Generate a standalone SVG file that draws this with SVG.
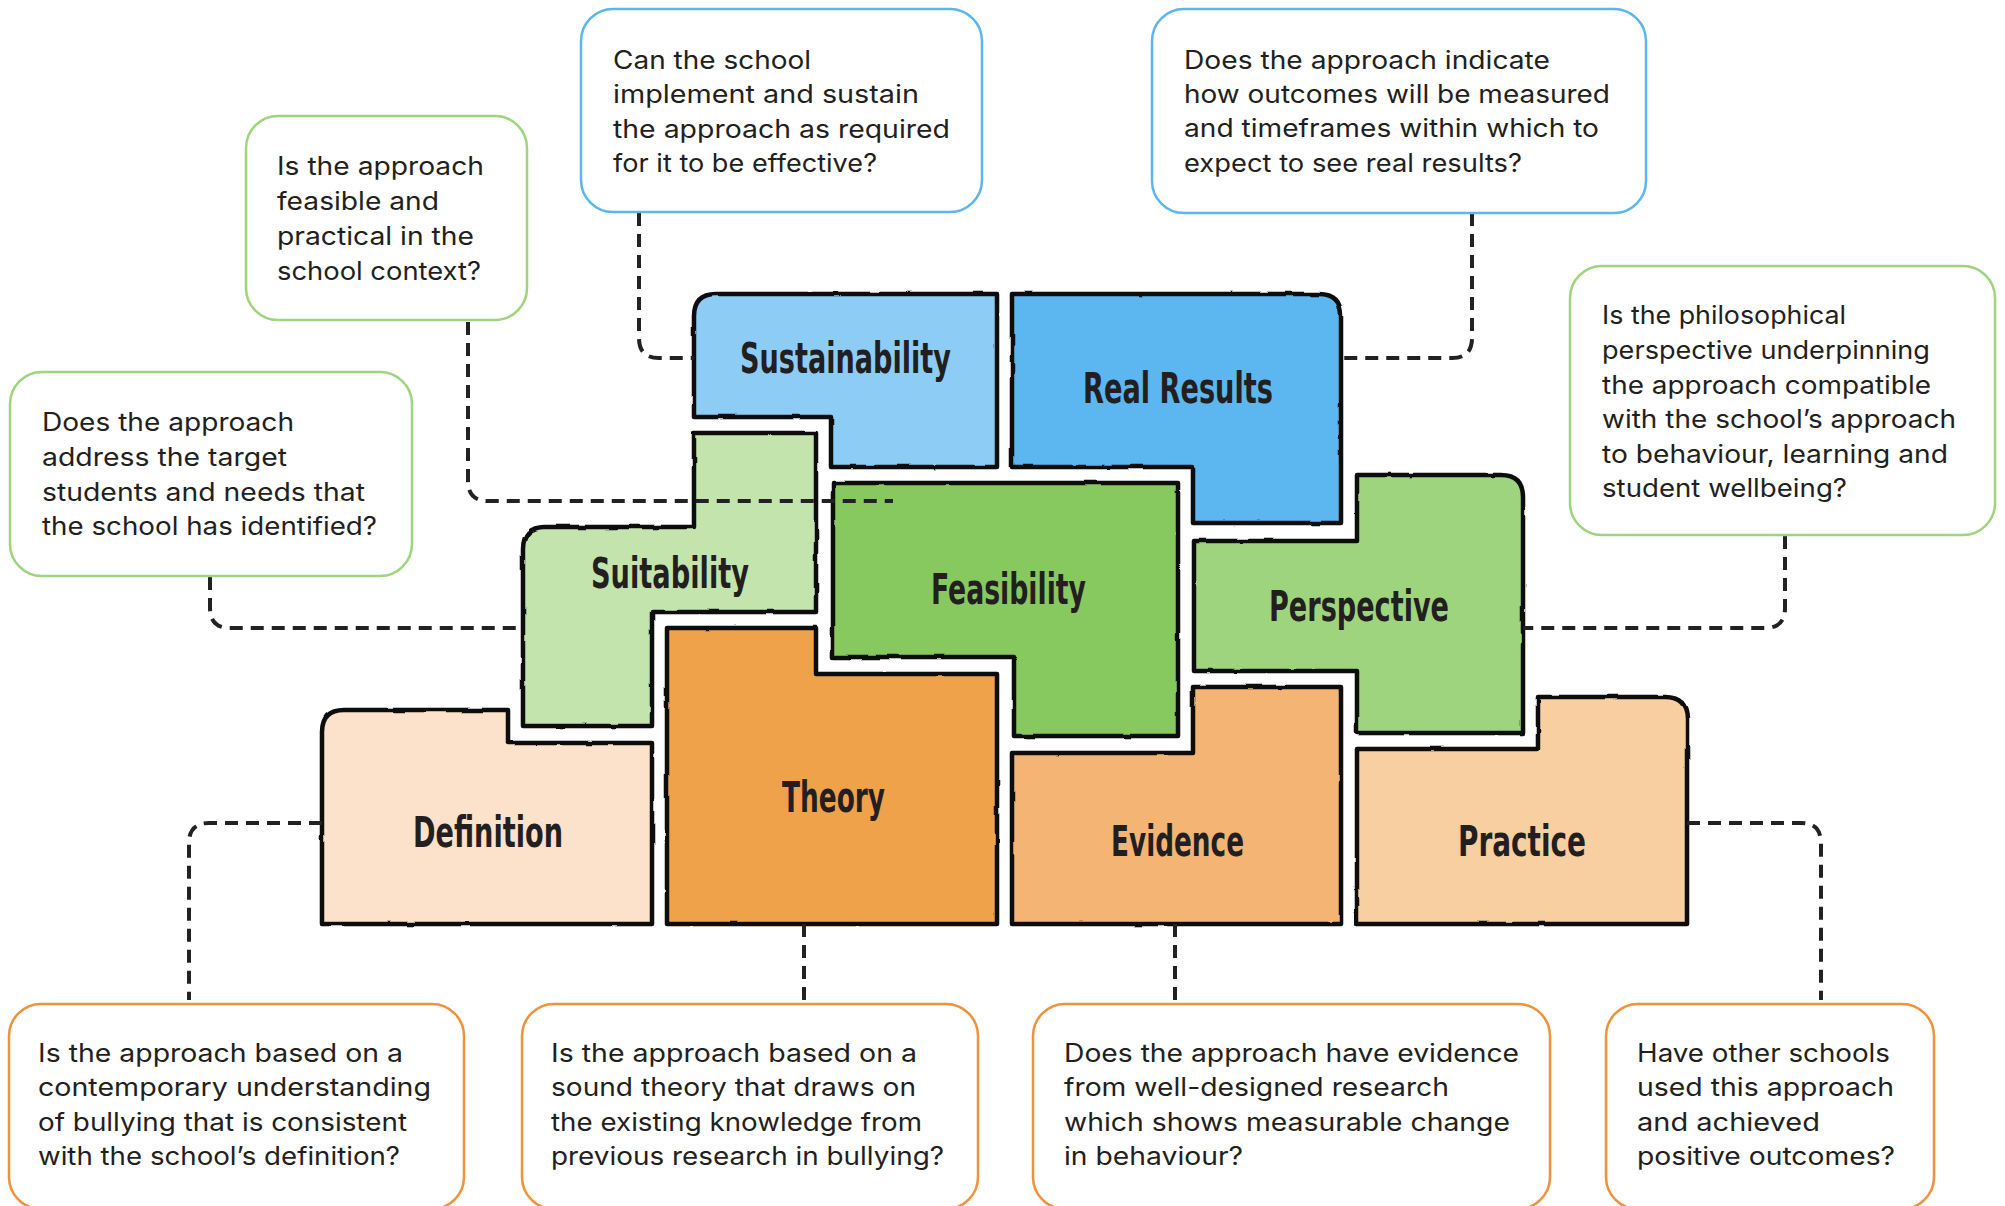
<svg xmlns="http://www.w3.org/2000/svg" width="2005" height="1206" viewBox="0 0 2005 1206">
<defs>
<filter id="rough" x="-5%" y="-5%" width="110%" height="110%">
<feTurbulence type="fractalNoise" baseFrequency="0.04" numOctaves="2" seed="3" result="n"/>
<feDisplacementMap in="SourceGraphic" in2="n" scale="2.5" xChannelSelector="R" yChannelSelector="G"/>
</filter>
<style>
.blk{stroke:#111;stroke-width:4.5;stroke-linejoin:round}
.title{font-family:"DejaVu Sans Condensed","DejaVu Sans","Liberation Sans",sans-serif;font-weight:bold;font-size:42px;fill:#231F20;text-anchor:middle}
.q{font-family:Inter,"Open Sans","Noto Sans",sans-serif;font-size:25px;fill:#231F20}
.box{fill:#fff;stroke-width:2.5}
.bb{stroke:#5BB6EF}
.gb{stroke:#9ED47C}
.ob{stroke:#F0923A}
.con{fill:none;stroke:#222;stroke-width:4;stroke-dasharray:13 8}
</style>
</defs>
<rect width="2005" height="1206" fill="#fff"/>

<g id="sustainability">
<path class="blk" filter="url(#rough)" fill="#8DCDF5" d="M694,316 Q694,294 716,294 L997,294 L997,467 L831,467 L831,417 L694,417 Z"/>
<text class="title" x="845.5" y="373" textLength="211" lengthAdjust="spacingAndGlyphs">Sustainability</text>
</g>
<g id="real-results">
<path class="blk" filter="url(#rough)" fill="#5BB6EF" d="M1012,294 L1319,294 Q1341,294 1341,316 L1341,523 L1193,523 L1193,467 L1012,467 Z"/>
<text class="title" x="1178" y="403" textLength="190" lengthAdjust="spacingAndGlyphs">Real Results</text>
</g>
<g id="suitability">
<path class="blk" filter="url(#rough)" fill="#C4E4AE" d="M694,433 L816,433 L816,612 L652,612 L652,726 L523,726 L523,549 Q523,527 545,527 L694,527 Z"/>
<text class="title" x="670" y="588" textLength="158" lengthAdjust="spacingAndGlyphs">Suitability</text>
</g>
<g id="feasibility">
<path class="blk" filter="url(#rough)" fill="#88C95E" d="M833,483 L1178,483 L1178,736 L1014,736 L1014,657 L833,657 Z"/>
<text class="title" x="1008.5" y="604" textLength="155" lengthAdjust="spacingAndGlyphs">Feasibility</text>
</g>
<g id="perspective">
<path class="blk" filter="url(#rough)" fill="#9FD47E" d="M1357,475 L1501,475 Q1523,475 1523,497 L1523,733 L1357,733 L1357,671 L1194,671 L1194,541 L1357,541 Z"/>
<text class="title" x="1359" y="621" textLength="180" lengthAdjust="spacingAndGlyphs">Perspective</text>
</g>
<g id="definition">
<path class="blk" filter="url(#rough)" fill="#FCE2CA" d="M322,732 Q322,710 344,710 L508,710 L508,743 L652,743 L652,924 L322,924 Z"/>
<text class="title" x="488" y="847" textLength="150" lengthAdjust="spacingAndGlyphs">Definition</text>
</g>
<g id="theory">
<path class="blk" filter="url(#rough)" fill="#F0A24C" d="M667,628 L816,628 L816,674 L997,674 L997,924 L667,924 Z"/>
<text class="title" x="833.5" y="812" textLength="103" lengthAdjust="spacingAndGlyphs">Theory</text>
</g>
<g id="evidence">
<path class="blk" filter="url(#rough)" fill="#F4B473" d="M1012,753 L1193,753 L1193,687 L1341,687 L1341,924 L1012,924 Z"/>
<text class="title" x="1177.5" y="856" textLength="133" lengthAdjust="spacingAndGlyphs">Evidence</text>
</g>
<g id="practice">
<path class="blk" filter="url(#rough)" fill="#F7CFA1" d="M1357,749 L1538,749 L1538,697 L1665,697 Q1687,697 1687,719 L1687,924 L1357,924 Z"/>
<text class="title" x="1522" y="856" textLength="128" lengthAdjust="spacingAndGlyphs">Practice</text>
</g>

<g id="connectors">
<path class="con" d="M639,213 L639,338 Q639,358 659,358 L694,358"/>
<path class="con" d="M468,322 L468,481 Q468,501 488,501 L893,501"/>
<path class="con" d="M210,577 L210,608 Q210,628 230,628 L523,628"/>
<path class="con" d="M1472,213 L1472,338 Q1472,358 1452,358 L1341,358"/>
<path class="con" d="M1785,536 L1785,608 Q1785,628 1765,628 L1523,628"/>
<path class="con" d="M322,823 L209,823 Q189,823 189,843 L189,1000"/>
<path class="con" d="M804,924 L804,1002"/>
<path class="con" d="M1175,924 L1175,1002"/>
<path class="con" d="M1687,823 L1801,823 Q1821,823 1821,843 L1821,1000"/>
</g>

<g id="q-sustainability">
<rect class="box bb" x="581" y="9" width="401" height="203" rx="32"/>
<text class="q" x="613" y="69" textLength="198" lengthAdjust="spacingAndGlyphs">Can the school</text>
<text class="q" x="613" y="103" textLength="306" lengthAdjust="spacingAndGlyphs">implement and sustain</text>
<text class="q" x="613" y="138" textLength="337" lengthAdjust="spacingAndGlyphs">the approach as required</text>
<text class="q" x="613" y="172" textLength="264" lengthAdjust="spacingAndGlyphs">for it to be effective?</text>
</g>
<g id="q-real-results">
<rect class="box bb" x="1152" y="9" width="494" height="204" rx="32"/>
<text class="q" x="1184" y="69" textLength="366" lengthAdjust="spacingAndGlyphs">Does the approach indicate</text>
<text class="q" x="1184" y="103" textLength="426" lengthAdjust="spacingAndGlyphs">how outcomes will be measured</text>
<text class="q" x="1184" y="137" textLength="415" lengthAdjust="spacingAndGlyphs">and timeframes within which to</text>
<text class="q" x="1184" y="172" textLength="338" lengthAdjust="spacingAndGlyphs">expect to see real results?</text>
</g>
<g id="q-feasibility">
<rect class="box gb" x="246" y="116" width="281" height="204" rx="32"/>
<text class="q" x="277" y="175" textLength="207" lengthAdjust="spacingAndGlyphs">Is the approach</text>
<text class="q" x="277" y="210" textLength="162" lengthAdjust="spacingAndGlyphs">feasible and</text>
<text class="q" x="277" y="245" textLength="197" lengthAdjust="spacingAndGlyphs">practical in the</text>
<text class="q" x="277" y="280" textLength="204" lengthAdjust="spacingAndGlyphs">school context?</text>
</g>
<g id="q-suitability">
<rect class="box gb" x="10" y="372" width="402" height="204" rx="32"/>
<text class="q" x="42" y="431" textLength="252" lengthAdjust="spacingAndGlyphs">Does the approach</text>
<text class="q" x="42" y="466" textLength="245" lengthAdjust="spacingAndGlyphs">address the target</text>
<text class="q" x="42" y="501" textLength="323" lengthAdjust="spacingAndGlyphs">students and needs that</text>
<text class="q" x="42" y="535" textLength="335" lengthAdjust="spacingAndGlyphs">the school has identified?</text>
</g>
<g id="q-perspective">
<rect class="box gb" x="1570" y="266" width="425" height="269" rx="32"/>
<text class="q" x="1602" y="324" textLength="244" lengthAdjust="spacingAndGlyphs">Is the philosophical</text>
<text class="q" x="1602" y="359" textLength="328" lengthAdjust="spacingAndGlyphs">perspective underpinning</text>
<text class="q" x="1602" y="394" textLength="329" lengthAdjust="spacingAndGlyphs">the approach compatible</text>
<text class="q" x="1602" y="428" textLength="354" lengthAdjust="spacingAndGlyphs">with the school’s approach</text>
<text class="q" x="1602" y="463" textLength="346" lengthAdjust="spacingAndGlyphs">to behaviour, learning and</text>
<text class="q" x="1602" y="497" textLength="245" lengthAdjust="spacingAndGlyphs">student wellbeing?</text>
</g>
<g id="q-definition">
<rect class="box ob" x="9" y="1004" width="455" height="205" rx="32"/>
<text class="q" x="38" y="1062" textLength="365" lengthAdjust="spacingAndGlyphs">Is the approach based on a</text>
<text class="q" x="38" y="1096" textLength="393" lengthAdjust="spacingAndGlyphs">contemporary understanding</text>
<text class="q" x="38" y="1131" textLength="369" lengthAdjust="spacingAndGlyphs">of bullying that is consistent</text>
<text class="q" x="38" y="1165" textLength="362" lengthAdjust="spacingAndGlyphs">with the school’s definition?</text>
</g>
<g id="q-theory">
<rect class="box ob" x="522" y="1004" width="456" height="205" rx="32"/>
<text class="q" x="551" y="1062" textLength="366" lengthAdjust="spacingAndGlyphs">Is the approach based on a</text>
<text class="q" x="551" y="1096" textLength="365" lengthAdjust="spacingAndGlyphs">sound theory that draws on</text>
<text class="q" x="551" y="1131" textLength="371" lengthAdjust="spacingAndGlyphs">the existing knowledge from</text>
<text class="q" x="551" y="1165" textLength="393" lengthAdjust="spacingAndGlyphs">previous research in bullying?</text>
</g>
<g id="q-evidence">
<rect class="box ob" x="1033" y="1004" width="517" height="205" rx="32"/>
<text class="q" x="1064" y="1062" textLength="455" lengthAdjust="spacingAndGlyphs">Does the approach have evidence</text>
<text class="q" x="1064" y="1096" textLength="385" lengthAdjust="spacingAndGlyphs">from well-designed research</text>
<text class="q" x="1064" y="1131" textLength="446" lengthAdjust="spacingAndGlyphs">which shows measurable change</text>
<text class="q" x="1064" y="1165" textLength="179" lengthAdjust="spacingAndGlyphs">in behaviour?</text>
</g>
<g id="q-practice">
<rect class="box ob" x="1606" y="1004" width="328" height="205" rx="32"/>
<text class="q" x="1637" y="1062" textLength="253" lengthAdjust="spacingAndGlyphs">Have other schools</text>
<text class="q" x="1637" y="1096" textLength="257" lengthAdjust="spacingAndGlyphs">used this approach</text>
<text class="q" x="1637" y="1131" textLength="183" lengthAdjust="spacingAndGlyphs">and achieved</text>
<text class="q" x="1637" y="1165" textLength="258" lengthAdjust="spacingAndGlyphs">positive outcomes?</text>
</g>
</svg>
